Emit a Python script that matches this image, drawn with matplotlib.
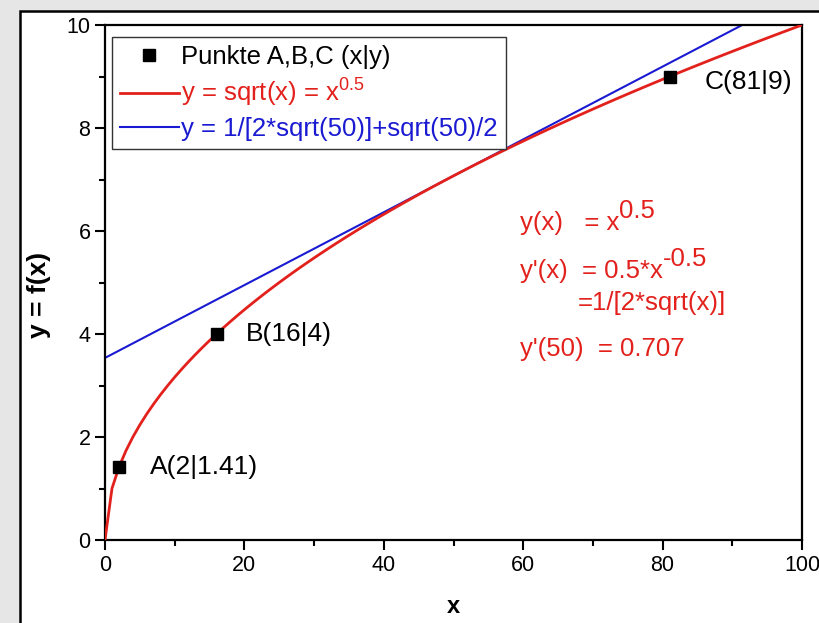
import numpy as np
import matplotlib
matplotlib.use("Agg")
import matplotlib.pyplot as plt
from matplotlib.patches import Rectangle

plt.rcParams['font.family'] = ['Liberation Sans', 'DejaVu Sans']
plt.rcParams['mathtext.fontset'] = 'custom'
plt.rcParams['mathtext.rm'] = 'Liberation Sans'
plt.rcParams['mathtext.it'] = 'Liberation Sans'

# data
x_grid = np.arange(0, 101, 1)
point_x = [2, 16, 81]
point_y = [1.41, 4, 9]
point_labels = ['A(2|1.41)', 'B(16|4)', 'C(81|9)']
label_pos = [(6.5, 1.42), (20.2, 4.0), (86.0, 8.9)]
x0 = 50  # tangent point

RED = '#e3211c'
BLUE = '#1a1ad2'

y_curve = np.sqrt(x_grid)
slope = 1 / (2 * np.sqrt(x0))
y_tangent = np.sqrt(x0) / 2 + slope * x_grid

fig = plt.figure(figsize=(8.19, 6.23), dpi=100, facecolor='#e6e6e6')
fig.patches.append(Rectangle((20 / 819, -0.05), 1.0, 1 - 11 / 623 + 0.05,
                             transform=fig.transFigure, facecolor='white',
                             edgecolor='black', linewidth=1.8, zorder=-10))
ax = fig.add_axes([105 / 819, 1 - 540 / 623, 697 / 819, 515 / 623])

ax.plot(x_grid, y_curve, color=RED, lw=2.0, label='y = sqrt(x) = x$^{0.5}$', zorder=3)
ax.plot(x_grid, y_tangent, color=BLUE, lw=1.5,
        label='y = 1/[2*sqrt(50)]+sqrt(50)/2', zorder=2)
ax.plot(point_x, point_y, 's', color='black', ms=8, ls='none',
        label='Punkte A,B,C (x|y)', zorder=4)

for (tx, ty), lab in zip(label_pos, point_labels):
    ax.text(tx, ty, lab, fontsize=19, va='center', ha='left')

# derivative annotations
fs = 18.5
t1 = ax.text(59.5, 6.15, 'y(x)   = x', color=RED, fontsize=fs, va='center')
ax.annotate('0.5', xy=(1, 0.5), xycoords=t1, color=RED, fontsize=fs, va='bottom')
t2 = ax.text(59.5, 5.22, "y'(x)  = 0.5*x", color=RED, fontsize=fs, va='center')
ax.annotate('-0.5', xy=(1, 0.5), xycoords=t2, color=RED, fontsize=fs, va='bottom')
ax.text(67.8, 4.6, '=1/[2*sqrt(x)]', color=RED, fontsize=fs, va='center')
ax.text(59.5, 3.7, "y'(50)  = 0.707", color=RED, fontsize=fs, va='center')

ax.set_xlim(0, 100)
ax.set_ylim(0, 10)
ax.set_xticks([0, 20, 40, 60, 80, 100])
ax.set_xticks([10, 30, 50, 70, 90], minor=True)
ax.set_yticks([0, 2, 4, 6, 8, 10])
ax.set_yticks([1, 3, 5, 7, 9], minor=True)
ax.tick_params(which='major', direction='out', length=7, width=1.5, labelsize=15.5)
ax.tick_params(which='minor', direction='out', length=4, width=1.5)
for sp in ax.spines.values():
    sp.set_linewidth(1.6)

ax.set_xlabel('x', fontsize=17, fontweight='bold', labelpad=14)
ax.set_ylabel('y = f(x)', fontsize=19, fontweight='bold')
ax.yaxis.set_label_coords(-0.078, 0.475)

handles, labels = ax.get_legend_handles_labels()
order = [2, 0, 1]
leg = ax.legend([handles[i] for i in order], [labels[i] for i in order],
                loc='upper left', bbox_to_anchor=(0.010, 0.977), fontsize=18.5,
                frameon=True, fancybox=False, edgecolor='#333333', framealpha=1,
                handlelength=2.3, handletextpad=0.1, borderpad=0.3,
                labelspacing=0.32, borderaxespad=0)
leg.get_frame().set_linewidth(1.0)
for txt, col in zip(leg.get_texts(), ['black', RED, BLUE]):
    txt.set_color(col)

fig.savefig('out.png', dpi=100, facecolor=fig.get_facecolor())
